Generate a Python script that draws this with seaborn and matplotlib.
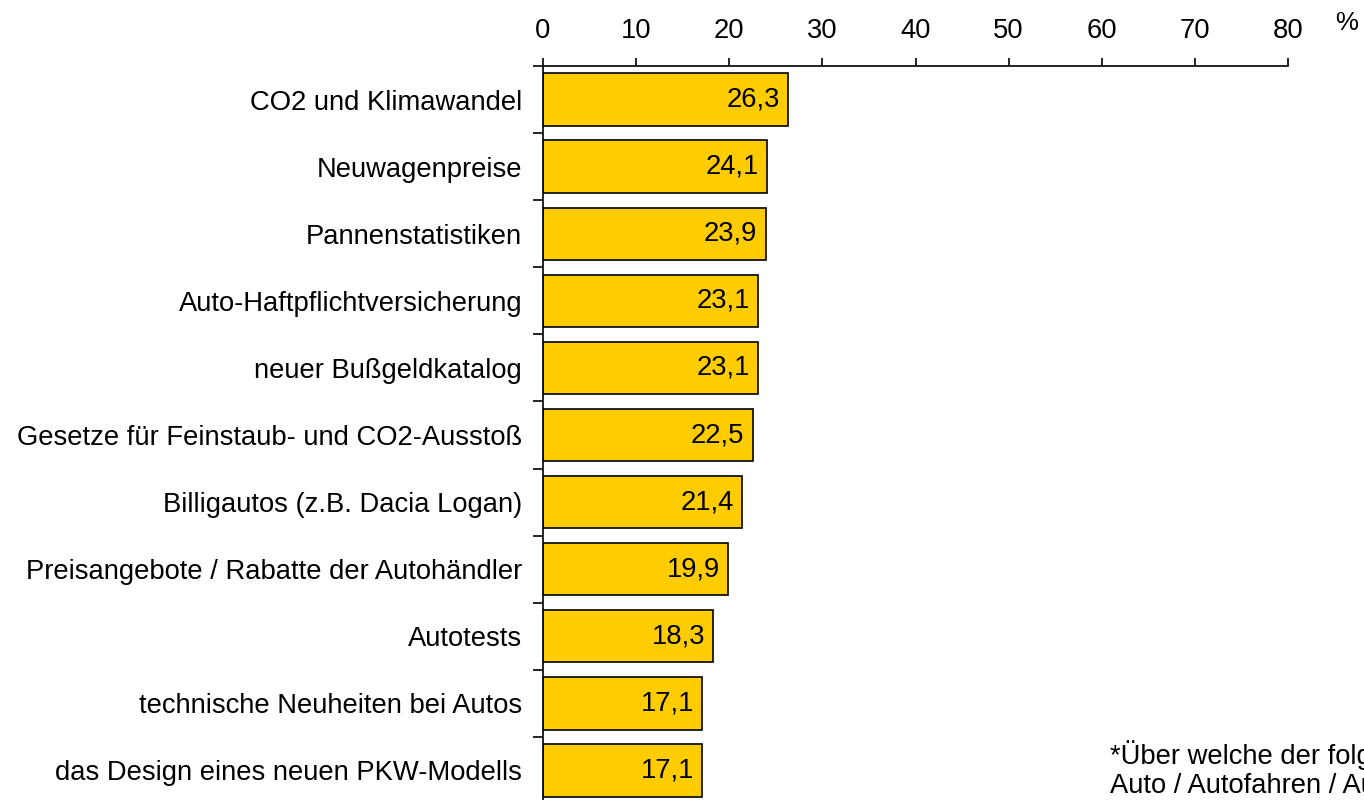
import numpy as np
import pandas as pd
import seaborn as sns
import matplotlib.pyplot as plt

# data
themen = [
    "CO2 und Klimawandel",
    "Neuwagenpreise",
    "Pannenstatistiken",
    "Auto-Haftpflichtversicherung",
    "neuer Bußgeldkatalog",
    "Gesetze für Feinstaub- und CO2-Ausstoß",
    "Billigautos (z.B. Dacia Logan)",
    "Preisangebote / Rabatte der Autohändler",
    "Autotests",
    "technische Neuheiten bei Autos",
    "das Design eines neuen PKW-Modells",
]
anteil = [26.3, 24.1, 23.9, 23.1, 23.1, 22.5, 21.4, 19.9, 18.3, 17.1, 17.1]
x_ticks = [0, 10, 20, 30, 40, 50, 60, 70, 80]
fussnote = ("*Über welche der folgenden Themen rund um das\n"
            "Auto / Autofahren / Autokauf informieren Sie sich?")

df = pd.DataFrame({"Thema": themen, "Anteil": anteil})

sns.set_style("ticks")
plt.rcParams["font.family"] = ["Liberation Sans", "DejaVu Sans"]
plt.rcParams["text.color"] = "black"
fs = 19.7

fig = plt.figure(figsize=(13.64, 8), dpi=100)
ax = fig.add_axes([543 / 1364, -4 / 800, 745 / 1364, 738 / 800])

sns.barplot(data=df, x="Anteil", y="Thema", orient="h", color="#FFCC00",
            saturation=1, edgecolor="black", linewidth=1.2, width=0.78, ax=ax)

labels = ax.bar_label(ax.containers[0],
                      labels=[f"{v:.1f}".replace(".", ",") for v in anteil],
                      padding=-6, fontsize=fs, color="black")
for t in labels:
    t.set_ha("right")
    t.set_va("center")

ax.set_xlim(0, 80)
ax.set_ylim(10.5, -0.5)
ax.set_xlabel("")
ax.set_ylabel("")

# x axis on top
ax.xaxis.tick_top()
ax.set_xticks(x_ticks)
ax.tick_params(axis="x", direction="out", length=6, width=1.2, pad=10,
               labelsize=fs, colors="black")

# category ticks between bars
ax.tick_params(axis="y", which="major", length=0, pad=15, labelsize=fs,
               labelcolor="black")
ax.set_yticks(np.arange(-0.5, len(themen) - 0.5, 1), minor=True)
ax.tick_params(axis="y", which="minor", direction="out", length=7, width=1.2,
               color="black")

for s in ["right", "bottom"]:
    ax.spines[s].set_visible(False)
for s in ["left", "top"]:
    ax.spines[s].set_linewidth(1.2)
    ax.spines[s].set_color("black")

fig.text(1335 / 1364, 1 - 23 / 800, "%", fontsize=18.5, ha="left", va="center")
fig.text(1110 / 1364, 1 - 770 / 800, fussnote, fontsize=fs, ha="left",
         va="center", linespacing=1.15)

fig.savefig("out.png", dpi=100)
